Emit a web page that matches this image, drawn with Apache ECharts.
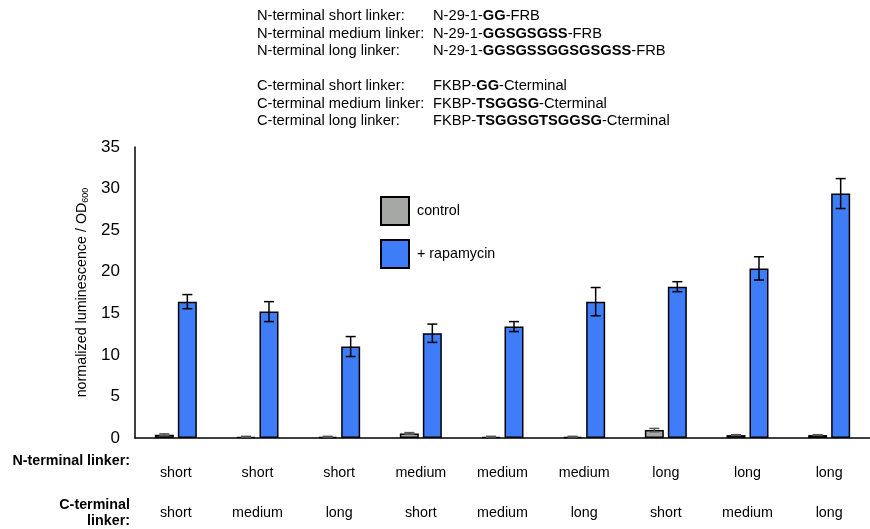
<!DOCTYPE html>
<html>
<head>
<meta charset="utf-8">
<script src="https://cdn.jsdelivr.net/npm/echarts@6/dist/echarts.min.js"></script>
<style>html,body{margin:0;padding:0;background:#fff;}#c{width:870px;height:529px;}</style>
</head>
<body>
<div id="c"></div>
<script>
const nLinker = ['short','short','short','medium','medium','medium','long','long','long'];
const cLinker = ['short','medium','long','short','medium','long','short','medium','long'];
const controlVals = [0.4, 0.15, 0.15, 0.55, 0.15, 0.15, 0.95, 0.35, 0.35];
const controlErr  = [0.1, 0.05, 0.05, 0.1, 0.05, 0.05, 0.2, 0.05, 0.05];
const rapaVals = [16.4, 15.2, 11.0, 12.6, 13.4, 16.4, 18.2, 20.4, 29.4];
const rapaErr  = [0.85, 1.2, 1.2, 1.1, 0.6, 1.7, 0.6, 1.4, 1.8];
const yTicks = [0, 5, 10, 15, 20, 25, 30, 35];

const FONT = '"Liberation Sans", Arial, sans-serif';
const FS = 14.3;
const FS_TOP = 14.7;
const BAR_W = 19, BAR_GAP = 4;
const OFF = (BAR_W + BAR_GAP) / 2;

const categories = nLinker.map((n, i) => n + '/' + cLinker[i]);

function errSeries(vals, errs, offset, color) {
  return {
    type: 'custom',
    silent: true,
    z: 10,
    data: vals.map((v, i) => [i, v, errs[i]]),
    renderItem: function (params, api) {
      const i = api.value(0), v = api.value(1), e = api.value(2);
      const top = api.coord([i, v + e]);
      const bot = api.coord([i, v - e]);
      const x = top[0] + offset;
      const cap = 5;
      const st = { stroke: color, lineWidth: 1.5 };
      return {
        type: 'group',
        children: [
          { type: 'line', shape: { x1: x, y1: top[1], x2: x, y2: bot[1] }, style: st },
          { type: 'line', shape: { x1: x - cap, y1: top[1], x2: x + cap, y2: top[1] }, style: st },
          { type: 'line', shape: { x1: x - cap, y1: bot[1], x2: x + cap, y2: bot[1] }, style: st }
        ]
      };
    }
  };
}

const topLabels = ['N-terminal short linker:', 'N-terminal medium linker:', 'N-terminal long linker:',
  'C-terminal short linker:', 'C-terminal medium linker:', 'C-terminal long linker:'];
const topValues = ['N-29-1-{b|GG}-FRB', 'N-29-1-{b|GGSGSGSS}-FRB', 'N-29-1-{b|GGSGSSGGSGSGSS}-FRB',
  'FKBP-{b|GG}-Cterminal', 'FKBP-{b|TSGGSG}-Cterminal', 'FKBP-{b|TSGGSGTSGGSG}-Cterminal'];
const topRowsY = [16, 33.5, 51, 86, 103.5, 121];

const graphics = [];
topLabels.forEach((lab, i) => {
  graphics.push({ type: 'text', x: 257, y: topRowsY[i], style: { text: lab, font: FS_TOP + 'px ' + FONT, fill: '#000', verticalAlign: 'middle' } });
  graphics.push({ type: 'text', x: 433, y: topRowsY[i], style: { text: topValues[i], font: FS_TOP + 'px ' + FONT, fill: '#000', verticalAlign: 'middle', rich: { b: { fontWeight: 'bold', fontSize: FS_TOP, fontFamily: FONT } } } });
});
graphics.push({ type: 'text', x: 130, y: 461, style: { text: 'N-terminal linker:', font: 'bold ' + FS + 'px ' + FONT, fill: '#000', align: 'right', verticalAlign: 'middle' } });
graphics.push({ type: 'text', x: 130, y: 505, style: { text: 'C-terminal', font: 'bold ' + FS + 'px ' + FONT, fill: '#000', align: 'right', verticalAlign: 'middle' } });
graphics.push({ type: 'text', x: 130, y: 521, style: { text: 'linker:', font: 'bold ' + FS + 'px ' + FONT, fill: '#000', align: 'right', verticalAlign: 'middle' } });

const chart = echarts.init(document.getElementById('c'));
chart.setOption({
  animation: false,
  backgroundColor: '#fff',
  textStyle: { fontFamily: FONT },
  grid: { left: 135, top: 147, width: 744, height: 291 },
  legend: {
    orient: 'vertical', left: 375, top: 191, itemWidth: 28, itemHeight: 28, itemGap: 13,
    icon: 'rect',
    textStyle: { fontSize: FS, color: '#000', fontFamily: FONT, padding: [0, 0, 0, 3] },
    data: ['control', '+ rapamycin']
  },
  xAxis: {
    type: 'category', data: categories,
    axisLine: { lineStyle: { color: '#000', width: 1.5 } },
    axisTick: { show: false },
    axisLabel: {
      interval: 0, margin: 15,
      formatter: function (v, i) { return '{a|' + nLinker[i] + '}\n{a|' + cLinker[i] + '}'; },
      rich: { a: { fontSize: FS, lineHeight: 40, color: '#000', fontFamily: FONT } }
    }
  },
  yAxis: {
    type: 'value', min: 0, max: 35, interval: 5,
    splitLine: { show: false },
    axisLine: { show: true, lineStyle: { color: '#000', width: 1.5 } },
    axisTick: { show: false },
    axisLabel: { fontSize: 17, color: '#000', margin: 15, fontFamily: FONT,
      formatter: v => yTicks.indexOf(v) >= 0 ? String(v) : '' },
    name: 'normalized luminescence / OD{sub|600}',
    nameLocation: 'middle', nameRotate: 90, nameGap: 45,
    nameTextStyle: { fontSize: FS, color: '#000', fontFamily: FONT,
      rich: { sub: { fontSize: 9, verticalAlign: 'bottom', padding: [6, 0, 0, 0], fontFamily: FONT } } }
  },
  series: [
    { name: 'control', type: 'bar', data: controlVals, barWidth: BAR_W, barGap: (BAR_GAP / BAR_W * 100) + '%',
      itemStyle: { color: '#a6a8a6', borderColor: '#000', borderWidth: 1.5 } },
    { name: '+ rapamycin', type: 'bar', data: rapaVals, barWidth: BAR_W,
      itemStyle: { color: '#3f7cf7', borderColor: '#000', borderWidth: 1.5 } },
    errSeries(controlVals, controlErr, -OFF, '#555'),
    errSeries(rapaVals, rapaErr, OFF, '#000')
  ],
  graphic: graphics
});
</script>
</body>
</html>
